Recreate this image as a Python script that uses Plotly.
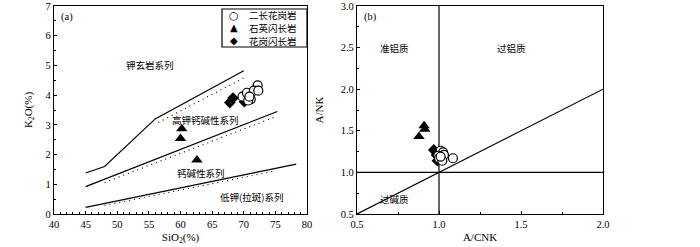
import plotly.graph_objects as go

# ---- Panel (a) data: SiO2 vs K2O ----
gran_sio2 = [69.8, 70.5, 72.2, 71.6, 72.3, 71.1, 70.7, 70.9]
gran_k2o = [3.95, 4.08, 4.33, 4.15, 4.15, 3.86, 3.82, 3.95]
qd_sio2 = [60.2, 60.0, 62.6]
qd_k2o = [2.87, 2.54, 1.82]
gd_sio2 = [67.8, 68.3, 70.1]
gd_k2o = [3.75, 3.90, 3.78]

# boundary lines (solid)
sho_x = [45, 48, 56, 70]
sho_y = [1.38, 1.6, 3.2, 4.82]
hk_x = [45, 75.3]
hk_y = [0.92, 3.45]
ca_x = [45, 78.3]
ca_y = [0.22, 1.68]
# boundary lines (dotted)
sho_dx = [56.5, 70]
sho_dy = [3.08, 4.58]
hk_dx = [48, 75]
hk_dy = [1.06, 3.27]
ca_dx = [48, 75]
ca_dy = [0.29, 1.45]

# ---- Panel (b) data: A/CNK vs A/NK ----
gran_acnk = [1.01, 1.025, 0.995, 1.03, 1.0, 1.02, 1.01, 1.085]
gran_ank = [1.26, 1.24, 1.20, 1.21, 1.17, 1.14, 1.19, 1.17]
qd_acnk = [0.909, 0.913, 0.878]
qd_ank = [1.56, 1.52, 1.43]
gd_acnk = [0.968, 0.99, 0.985]
gd_ank = [1.27, 1.14, 1.21]

vline_x = [1.0, 1.0]
vline_y = [0.5, 3.0]
hline_x = [0.5, 2.0]
hline_y = [1.0, 1.0]
diag_x = [0.5, 2.0]
diag_y = [0.5, 2.0]

names = ["二长花岗岩", "石英闪长岩", "花岗闪长岩"]
legend_glyphs = ["○", "▲", "◆"]

SERIF = "Liberation Serif, Times New Roman, serif"
CJK = "Noto Sans CJK SC"

fig = go.Figure()

line_style = dict(color="black", width=1.2)
dot_style = dict(color="black", width=1.1, dash="1px,4px")

for xs, ys in [(sho_x, sho_y), (hk_x, hk_y), (ca_x, ca_y)]:
    fig.add_trace(go.Scatter(x=xs, y=ys, mode="lines", line=line_style,
                             showlegend=False, hoverinfo="skip", xaxis="x", yaxis="y"))
for xs, ys in [(sho_dx, sho_dy), (hk_dx, hk_dy), (ca_dx, ca_dy)]:
    fig.add_trace(go.Scatter(x=xs, y=ys, mode="lines", line=dot_style,
                             showlegend=False, hoverinfo="skip", xaxis="x", yaxis="y"))

for xs, ys in [(vline_x, vline_y), (hline_x, hline_y), (diag_x, diag_y)]:
    fig.add_trace(go.Scatter(x=xs, y=ys, mode="lines", line=line_style,
                             showlegend=False, hoverinfo="skip", xaxis="x2", yaxis="y2"))

circ = dict(symbol="circle", size=9, color="white", line=dict(width=1.2, color="black"))
tri = dict(symbol="triangle-up", size=10, color="black")
dia = dict(symbol="diamond", size=9, color="black")

fig.add_trace(go.Scatter(x=gd_sio2, y=gd_k2o, mode="markers", marker=dia, name=names[2],
                         xaxis="x", yaxis="y", showlegend=False))
fig.add_trace(go.Scatter(x=qd_sio2, y=qd_k2o, mode="markers", marker=tri, name=names[1],
                         xaxis="x", yaxis="y", showlegend=False))
fig.add_trace(go.Scatter(x=gran_sio2, y=gran_k2o, mode="markers", marker=circ, name=names[0],
                         xaxis="x", yaxis="y", showlegend=False))
fig.add_trace(go.Scatter(x=gd_acnk, y=gd_ank, mode="markers", marker=dia, name=names[2],
                         xaxis="x2", yaxis="y2", showlegend=False))
fig.add_trace(go.Scatter(x=qd_acnk, y=qd_ank, mode="markers", marker=tri, name=names[1],
                         xaxis="x2", yaxis="y2", showlegend=False))
fig.add_trace(go.Scatter(x=gran_acnk, y=gran_ank, mode="markers", marker=circ,
                         name=names[0], xaxis="x2", yaxis="y2", showlegend=False))

W, H = 700, 247
tfont = dict(family=SERIF, size=11, color="black")


def ax(**kw):
    d = dict(showline=True, linecolor="black", linewidth=1.2, mirror=True,
             ticks="inside", ticklen=3, tickcolor="black", showgrid=False, zeroline=False,
             automargin=False, tickfont=dict(family=SERIF, size=10.5, color="black"))
    d.update(kw)
    return d


ydom = [(H - 214) / H, (H - 6) / H]

fig.update_layout(
    width=W, height=H, margin=dict(l=0, r=0, t=0, b=0),
    paper_bgcolor="white", plot_bgcolor="white", showlegend=False,
    xaxis=ax(domain=[54 / W, 307 / W], range=[40, 80], dtick=5, anchor="y",
             title=dict(text="SiO<sub>2</sub>(%)", font=tfont, standoff=4),
             minor=dict(ticks="inside", ticklen=2, tickcolor="black", dtick=1)),
    yaxis=ax(domain=ydom, range=[0, 7], dtick=1, anchor="x",
             title=dict(text="K<sub>2</sub>O(%)", font=tfont, standoff=10),
             minor=dict(ticks="inside", ticklen=2, tickcolor="black", dtick=0.5)),
    xaxis2=ax(domain=[357 / W, 603 / W], range=[0.5, 2.0], dtick=0.5, tickformat=".1f", anchor="y2",
              title=dict(text="A/CNK", font=tfont, standoff=4),
              minor=dict(ticks="inside", ticklen=2, tickcolor="black", dtick=0.25)),
    yaxis2=ax(domain=ydom, range=[0.5, 3.0], dtick=0.5, tickformat=".1f", anchor="x2",
              title=dict(text="A/NK", font=tfont, standoff=14),
              minor=dict(ticks="inside", ticklen=2, tickcolor="black", dtick=0.25)),
)

# manual compact legend (box + glyph + label, all text)
fig.add_shape(type="rect", xref="paper", yref="paper",
              x0=222 / W, x1=307 / W, y0=(H - 47) / H, y1=(H - 9) / H,
              line=dict(color="black", width=1.2), fillcolor="white", layer="above")
for i, (g, n) in enumerate(zip(legend_glyphs, names)):
    yy = (H - (15.5 + 12.5 * i)) / H
    fig.add_annotation(text=g, x=234 / W, y=yy, xref="paper", yref="paper",
                       showarrow=False, xanchor="center", yanchor="middle",
                       font=dict(family="DejaVu Sans", size=11 if i == 0 else 10, color="black"))
    fig.add_annotation(text=n, x=247 / W, y=yy, xref="paper", yref="paper",
                       showarrow=False, xanchor="left", yanchor="middle",
                       font=dict(family=CJK, size=9.5, color="black"))

ann_font = dict(family=CJK, size=9.5, color="black")
labels_a = [("钾玄岩系列", 55.2, 5.0), ("高钾钙碱性系列", 64.0, 3.16),
            ("钙碱性系列", 63.2, 1.39), ("低钾(拉斑)系列", 71.3, 0.58)]
for t, x, y in labels_a:
    fig.add_annotation(text=t, x=x, y=y, xref="x", yref="y", showarrow=False, font=ann_font)
labels_b = [("准铝质", 0.73, 2.5), ("过铝质", 1.44, 2.5), ("过碱质", 0.73, 0.68)]
for t, x, y in labels_b:
    fig.add_annotation(text=t, x=x, y=y, xref="x2", yref="y2", showarrow=False, font=ann_font)

fig.add_annotation(text="(a)", x=0.02, y=0.985, xref="x domain", yref="y domain",
                   xanchor="left", yanchor="top", showarrow=False,
                   font=dict(family=SERIF, size=10.5, color="black"))
fig.add_annotation(text="(b)", x=0.02, y=0.985, xref="x2 domain", yref="y2 domain",
                   xanchor="left", yanchor="top", showarrow=False,
                   font=dict(family=SERIF, size=10.5, color="black"))

fig.write_html("out.html", config={"displayModeBar": False},
               post_script="document.body.style.margin='0';document.body.style.overflow='hidden';")
